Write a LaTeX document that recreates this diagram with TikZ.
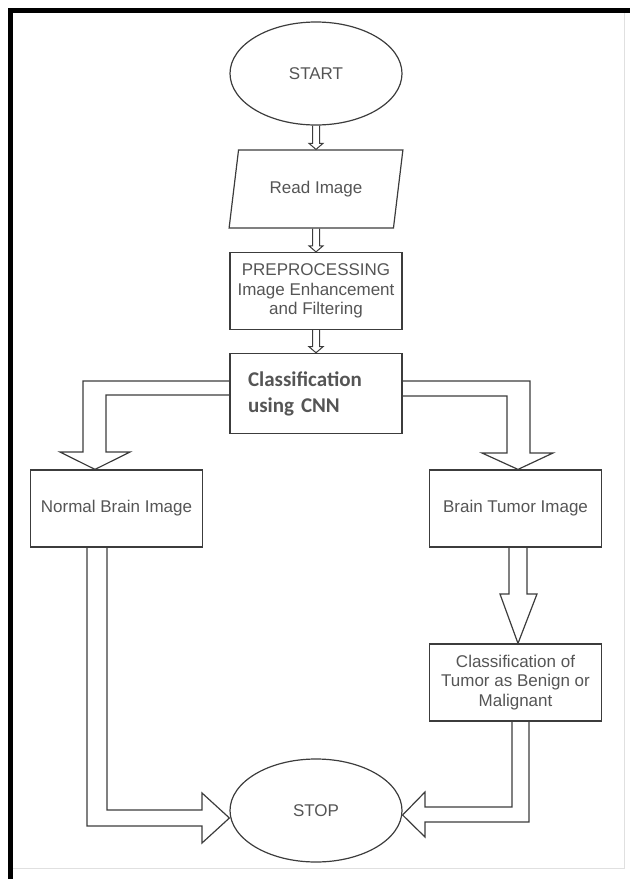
\documentclass[tikz,border=0pt]{standalone}
\usepackage{fontspec}
\setmainfont{Liberation Sans}
\newfontfamily\cnnfont{Carlito}
\usetikzlibrary{shapes.geometric}
\definecolor{linegray}{HTML}{3C3C3C}
\definecolor{txtgray}{HTML}{555555}
\tikzset{
  box/.style   ={rectangle,draw=linegray,line width=1.2pt,minimum width=172pt,
                 minimum height=77pt,inner sep=2pt,align=center,text=txtgray,
                 font=\fontsize{17}{19.5}\selectfont},
  term/.style  ={ellipse,draw=linegray,line width=1.2pt,minimum width=172pt,
                 minimum height=103pt,inner sep=0pt,text=txtgray,
                 font=\fontsize{17}{19.5}\selectfont},
  io/.style    ={trapezium,trapezium left angle=73.5,trapezium right angle=106.5,
                 trapezium stretches=true,draw=linegray,line width=1.2pt,
                 minimum width=174pt,minimum height=78pt,inner sep=2pt,
                 text=txtgray,font=\fontsize{17}{19.5}\selectfont},
  blk/.style   ={draw=linegray,line width=1.2pt,line join=miter},
  frm/.style   ={draw=black,line width=5pt},
  faint/.style ={draw=black!12,line width=1pt},
}

\begin{document}
\begin{tikzpicture}[x=1pt,y=-1pt]
\useasboundingbox (0,0) rectangle (630,879);

%% frame of the screenshot
\draw[faint] (624,13) -- (624,868) -- (13,868);
\draw[frm] (10.5,879) -- (10.5,10.5) -- (630,10.5);

\node[term] (start) at (316,73.5)  {START};
\node[io]   (read)  at (316,189)   {Read Image};
\node[box]  (pre)   at (316,291)   {PREPROCESSING\\Image Enhancement\\and Filtering};
\node[box,minimum height=79pt,align=left,text width=136pt,inner sep=18pt,
      font=\cnnfont\bfseries\fontsize{21}{26}\selectfont]
            (cnn)   at (316,393.5) {Classification\\using CNN};
\node[box]  (norm)  at (116.5,508.5) {Normal Brain Image};
\node[box]  (tum)   at (515.5,508.5) {Brain Tumor Image};
\node[box]  (cls)   at (515.5,682.5) {Classification of\\Tumor as Benign or\\Malignant};
\node[term] (stop)  at (316,810.5)  {STOP};

%% small double arrows down the middle
\foreach \a/\b in {start/read, read/pre, pre/cnn} {
  \coordinate (p) at (\a.south -| start.south);
  \coordinate (q) at (\b.north -| start.south);
  \draw[blk,line width=1pt] ([xshift=-3.5pt]p) -- ([xshift=-3.5pt,yshift=6pt]q)
    -- ([xshift=-7pt,yshift=6pt]q) -- (q) -- ([xshift=7pt,yshift=6pt]q)
    -- ([xshift=3.5pt,yshift=6pt]q) -- ([xshift=3.5pt]p);
}

%% the two branches out of the classifier
\draw[blk] ([yshift=12.5pt]cnn.west) -- (83,381) -- (83,452) -- (60,452)
  -- ([xshift=-21.5pt]norm.north) -- (130,452) -- (106,452) -- (106,395)
  -- ([yshift=-1.5pt]cnn.west);
\draw[blk] ([yshift=12.5pt]cnn.east) -- (530,381) -- (530,453) -- (553,453)
  -- ([xshift=2.5pt]tum.north) -- (482,453) -- (507,453) -- (507,396)
  -- ([yshift=-2.5pt]cnn.east);

\draw[blk] ([xshift=-6.5pt]tum.south) -- (509,594) -- (500,594)
  -- ([xshift=2.5pt]cls.north) -- (537,594) -- (527,594)
  -- ([xshift=11.5pt]tum.south);

%% into STOP
\draw[blk] ([xshift=-29.5pt]norm.south) -- (87,826) -- (202,826) -- (202,843)
  -- ([yshift=-7.5pt]stop.west) -- (202,793) -- (202,810) -- (107,810)
  -- ([xshift=-9.5pt]norm.south);
\draw[blk] ([xshift=-3.5pt]cls.south) -- (512,807) -- (425,807) -- (425,792)
  -- ([yshift=-4.5pt]stop.east) -- (425,837) -- (425,822) -- (529,822)
  -- ([xshift=13.5pt]cls.south);

\end{tikzpicture}
\end{document}
